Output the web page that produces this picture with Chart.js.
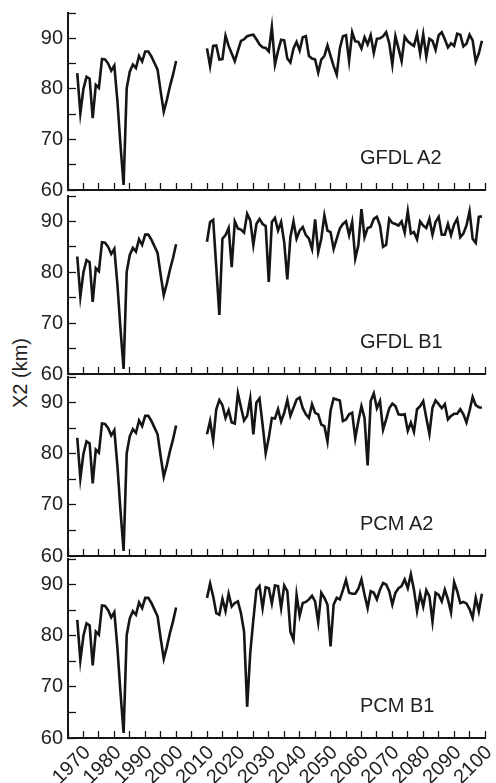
<!DOCTYPE html>
<html>
<head>
<meta charset="utf-8">
<script src="https://cdn.jsdelivr.net/npm/chart.js@4/dist/chart.umd.min.js"></script>
<style>
  html, body { margin: 0; padding: 0; background: #fff; }
  #wrap { position: relative; width: 496px; height: 783px; overflow: hidden;
          font-family: "Liberation Sans", Arial, sans-serif; color: #222; }
  .panel { position: absolute; left: 0; width: 496px; }
  .tag { position: absolute; left: 360px; font-size: 20px; line-height: 20px; white-space: nowrap; }
  #ytitle { position: absolute; left: -30px; top: 363px; width: 100px; height: 20px;
            line-height: 20px; font-size: 20px; text-align: center; transform: rotate(-90deg); }
</style>
</head>
<body>
<div id="wrap">
  <div id="ytitle">X2 (km)</div>
</div>
<script>
// observed X2, 1968-2000 (same in every panel)
const histStart = 1968;
const histX2 = [83.1, 75.2, 80.0, 82.4, 82.0, 74.2, 80.8, 80.2, 85.9, 85.8,
                85.0, 83.6, 84.6, 77.6, 68.8, 61.0, 80.1, 83.4, 84.8, 84.1,
                86.5, 85.4, 87.4, 87.4, 86.4, 85.1, 83.8, 79.5, 75.5, 77.8,
                80.5, 82.8, 85.5];

// projections, 2010-2099
const projStart = 2010;
const gfdlA2 = [88.0, 84.5, 88.5, 88.6, 85.8, 85.9, 90.5, 88.5, 87.0, 85.5,
                87.5, 89.5, 89.8, 90.4, 90.6, 90.7, 89.8, 88.8, 88.2, 88.1,
                87.4, 92.2, 84.8, 87.5, 89.7, 89.6, 86.0, 85.2, 88.0, 89.3,
                87.6, 90.2, 90.4, 86.5, 86.0, 85.8, 83.2, 85.8, 86.5, 88.6,
                86.5, 84.5, 82.8, 88.0, 90.4, 90.6, 85.5, 91.2, 89.4, 89.3,
                88.0, 90.2, 88.8, 90.6, 87.1, 89.9, 90.0, 90.4, 91.2, 89.0,
                84.8, 90.4, 88.0, 85.5, 90.3, 89.4, 88.9, 88.5, 90.8, 87.0,
                90.8, 86.4, 89.9, 89.5, 87.7, 90.6, 91.2, 89.8, 88.2, 89.0,
                88.5, 90.9, 90.7, 88.4, 88.9, 90.7, 89.6, 85.4, 87.0, 89.5];
const gfdlB1 = [86.0, 89.9, 90.3, 81.0, 71.6, 86.6, 87.3, 88.7, 81.0, 90.0,
                88.6, 88.4, 87.8, 91.5, 90.2, 85.4, 89.5, 90.5, 89.5, 89.1,
                78.1, 89.9, 90.7, 88.2, 89.9, 85.9, 78.6, 86.9, 90.0, 86.6,
                88.2, 88.9, 87.3, 86.6, 84.6, 90.4, 84.0, 86.6, 91.2, 88.2,
                87.9, 84.6, 86.6, 88.6, 89.5, 90.0, 87.3, 89.9, 82.7, 85.3,
                92.4, 86.9, 88.7, 88.9, 90.5, 90.9, 89.2, 85.0, 85.4, 90.5,
                89.7, 89.5, 89.2, 90.0, 87.8, 92.0, 87.6, 87.9, 86.5, 90.0,
                89.2, 88.7, 90.5, 87.4, 89.9, 90.9, 87.4, 87.4, 89.5, 87.3,
                89.4, 90.5, 86.9, 87.6, 89.2, 92.0, 86.6, 85.8, 90.9, 91.0];
const pcmA2 = [83.8, 86.4, 82.6, 88.7, 90.5, 89.5, 87.0, 88.5, 86.1, 85.9,
               91.8, 89.1, 86.5, 87.4, 90.8, 83.8, 90.0, 90.8, 85.7, 80.1,
               83.1, 87.0, 86.9, 88.7, 86.3, 88.0, 90.5, 87.4, 89.0, 90.6,
               91.0, 88.9, 87.7, 87.0, 89.7, 88.0, 87.7, 85.7, 85.4, 82.4,
               88.4, 90.8, 90.6, 90.4, 86.4, 86.7, 87.7, 88.0, 83.0, 86.4,
               89.3, 87.0, 77.7, 90.3, 91.8, 88.9, 90.3, 84.7, 86.7, 88.9,
               89.8, 89.3, 87.7, 87.6, 87.7, 84.5, 86.1, 84.3, 88.7, 89.3,
               90.3, 87.0, 83.9, 89.0, 90.4, 89.7, 88.9, 89.7, 86.7, 87.4,
               87.8, 87.8, 88.7, 87.7, 86.1, 88.4, 91.1, 89.5, 89.1, 89.0];
const pcmB1 = [87.4, 90.2, 87.7, 84.4, 84.1, 87.2, 84.8, 88.2, 85.7, 86.4,
               86.7, 84.4, 80.8, 66.1, 76.6, 83.1, 89.0, 89.7, 85.4, 89.5,
               89.3, 86.3, 89.8, 89.7, 85.4, 89.8, 88.7, 80.8, 79.2, 88.0,
               83.9, 86.4, 86.6, 87.1, 87.8, 86.7, 82.6, 88.4, 87.4, 86.1,
               77.9, 86.1, 87.4, 87.1, 88.9, 90.9, 88.4, 88.2, 88.2, 89.2,
               91.0, 88.0, 85.4, 88.7, 88.4, 87.1, 89.0, 90.3, 90.0, 88.7,
               86.1, 88.4, 89.3, 89.7, 91.0, 89.3, 92.0, 89.0, 84.8, 88.2,
               85.7, 88.9, 87.7, 82.8, 88.4, 88.0, 86.7, 89.0, 87.1, 84.6,
               90.5, 88.7, 86.4, 86.6, 86.3, 85.2, 83.5, 87.4, 84.8, 88.2];

const panelNames = ['GFDL A2', 'GFDL B1', 'PCM A2', 'PCM B1'];
const panelSeries = [gfdlA2, gfdlB1, pcmA2, pcmB1];

// pixel layout of each panel (plot top / bottom)
const panelTop = [13, 196, 377, 559];
const panelBottom = [190, 374, 556, 738];
const padTop = 12;
const ink = '#151515';

Chart.defaults.font.family = '"Liberation Sans", Arial, sans-serif';
Chart.defaults.font.size = 20;
Chart.defaults.color = '#222';

function toPoints(start, values) {
  return values.map((v, i) => ({ x: start + i, y: v }));
}

function makePanel(idx) {
  const last = idx === panelNames.length - 1;
  const xh = last ? 46 : 14;
  const plotH = panelBottom[idx] - panelTop[idx];

  const box = document.createElement('div');
  box.className = 'panel';
  box.style.top = (panelTop[idx] - padTop) + 'px';
  box.style.height = (padTop + plotH + xh) + 'px';
  const canvas = document.createElement('canvas');
  canvas.width = 496;
  canvas.height = padTop + plotH + xh;
  box.appendChild(canvas);
  document.getElementById('wrap').appendChild(box);

  const tag = document.createElement('div');
  tag.className = 'tag';
  tag.textContent = panelNames[idx];
  tag.style.top = (panelBottom[idx] - 43) + 'px';
  document.getElementById('wrap').appendChild(tag);

  const lineStyle = { borderColor: ink, borderWidth: 2.6, pointRadius: 0, tension: 0, fill: false };

  new Chart(canvas.getContext('2d'), {
    type: 'line',
    data: {
      datasets: [
        Object.assign({ data: toPoints(histStart, histX2) }, lineStyle),
        Object.assign({ data: toPoints(projStart, panelSeries[idx]) }, lineStyle)
      ]
    },
    options: {
      responsive: false,
      animation: false,
      layout: { padding: { left: 0, right: 11, top: padTop, bottom: 0 } },
      plugins: { legend: { display: false }, tooltip: { enabled: false } },
      scales: {
        x: {
          type: 'linear',
          min: 1965,
          max: 2100,
          border: { display: true, color: ink, width: 2 },
          grid: { drawOnChartArea: false, drawTicks: true, tickLength: -7, tickWidth: 1.3, tickColor: ink },
          ticks: {
            display: last,
            stepSize: 5,
            autoSkip: false,
            minRotation: 45,
            maxRotation: 45,
            padding: 10,
            labelOffset: 4,
            callback: v => (v % 10 === 0 ? String(v) : '')
          },
          afterFit(s) { s.height = xh; s.paddingLeft = 0; s.paddingRight = 0; }
        },
        y: {
          min: 60,
          max: 95,
          border: { display: true, color: ink, width: 2 },
          grid: { drawOnChartArea: false, drawTicks: true, tickLength: -8, tickWidth: 1.3, tickColor: ink },
          ticks: {
            stepSize: 5,
            autoSkip: false,
            padding: 13,
            callback: v => (v % 10 === 0 ? String(v) : '')
          },
          afterFit(s) { s.width = 68; s.paddingTop = 0; s.paddingBottom = 0; }
        }
      }
    }
  });
}

for (let i = 0; i < panelNames.length; i++) makePanel(i);
</script>
</body>
</html>
